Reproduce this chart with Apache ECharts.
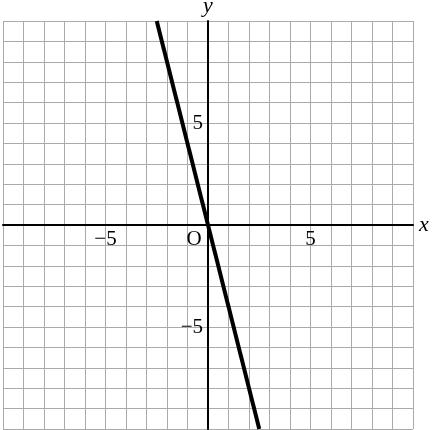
<!DOCTYPE html>
<html>
<head>
<meta charset="utf-8">
<script src="https://cdn.jsdelivr.net/npm/echarts@6/dist/echarts.min.js"></script>
<style>
html,body{margin:0;padding:0;background:#fff;}
#c{width:434px;height:430px;}
</style>
</head>
<body>
<div id="c"></div>
<script>
// Data
var lineX = [-2.5, 2.5];
var lineY = [10, -10];
var axisMin = -10;
var axisMax = 10;
var xTickLabels = {'-5': '\u22125', '0': '{o|O}', '5': '5'};
var yTickLabels = {'-5': '\u22125', '5': '5'};

var chart = echarts.init(document.getElementById('c'), null, {renderer: 'canvas'});
var font = 'Liberation Serif';
var pts = lineX.map(function (x, i) { return [x, lineY[i]]; });

var gLeft = 3, gRight = 21, gTop = 21, gBottom = 1;
var gW = 434 - gLeft - gRight, gH = 430 - gTop - gBottom;

chart.setOption({
  animation: false,
  grid: {left: gLeft, right: gRight, top: gTop, bottom: gBottom, containLabel: false, outerBoundsMode: 'none'},
  xAxis: {
    type: 'value', min: axisMin, max: axisMax, interval: 1,
    position: 'bottom', offset: -gH / 2,
    name: 'x', nameLocation: 'end', nameGap: 6,
    nameTextStyle: {fontFamily: font, fontStyle: 'italic', fontSize: 22, color: '#000', verticalAlign: 'middle'},
    axisLine: {onZero: false, lineStyle: {color: '#000', width: 2}},
    axisTick: {show: false},
    axisLabel: {
      margin: 4, fontFamily: font, fontSize: 21, color: '#000',
      formatter: function (v) { var s = xTickLabels[String(v)]; return s === undefined ? '' : s; },
      rich: {o: {fontFamily: font, fontSize: 21, color: '#000', padding: [0, 28, 0, 0]}}
    },
    splitLine: {show: true, lineStyle: {color: '#aaa', width: 1}}
  },
  yAxis: {
    type: 'value', min: axisMin, max: axisMax, interval: 1,
    position: 'left', offset: -gW / 2,
    name: 'y', nameLocation: 'end', nameGap: 4,
    nameTextStyle: {fontFamily: font, fontStyle: 'italic', fontSize: 22, color: '#000'},
    axisLine: {onZero: false, lineStyle: {color: '#000', width: 2}},
    axisTick: {show: false},
    axisLabel: {
      margin: 5, fontFamily: font, fontSize: 21, color: '#000',
      formatter: function (v) { var s = yTickLabels[String(v)]; return s === undefined ? '' : s; }
    },
    splitLine: {show: true, lineStyle: {color: '#aaa', width: 1}}
  },
  series: [{
    type: 'line', data: pts, symbol: 'none',
    lineStyle: {color: '#000', width: 4}, z: 5
  }]
});
</script>
</body>
</html>
